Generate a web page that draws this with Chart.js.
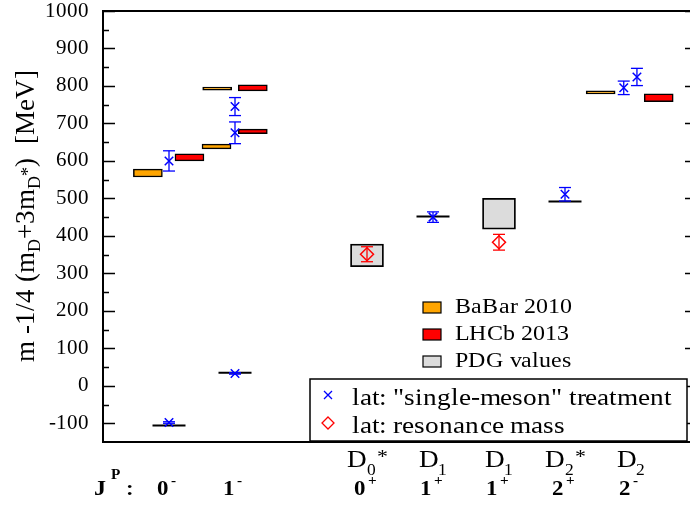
<!DOCTYPE html>
<html>
<head>
<meta charset="utf-8">
<script src="https://cdn.jsdelivr.net/npm/chart.js@4.4.1/dist/chart.umd.min.js"></script>
<style>
  @font-face { font-family: 'RefSerif'; src: local('Liberation Serif'), local('LiberationSerif'), local('Times New Roman'); font-weight: normal; }
  @font-face { font-family: 'RefSerif'; src: local('Liberation Serif Bold'), local('LiberationSerif-Bold'), local('Times New Roman Bold'); font-weight: bold; }
  html, body { margin: 0; padding: 0; background: #fff; overflow: hidden; }
  #wrap { width: 690px; height: 509px; overflow: hidden; }
</style>
</head>
<body>
<div id="wrap"><canvas id="chart" width="699" height="509"></canvas></div>
<script>
// group positions on the x axis and their labels
const groupX     = [1, 2, 4, 5, 6, 7, 8];
const stateNames = [null, null, ['D', '0', '*'], ['D', '1', ''], ['D', '1', ''], ['D', '2', '*'], ['D', '2', '']];
const jpLabels   = [['0', '-'], ['1', '-'], ['0', '+'], ['1', '+'], ['1', '+'], ['2', '+'], ['2', '-']];
const yTicks     = [-100, 0, 100, 200, 300, 400, 500, 600, 700, 800, 900, 1000];

// BaBar 2010 boxes [MeV]
const babarX  = [0.68, 1.72, 1.73, 7.54];
const babarLo = [557, 632, 789, 779];
const babarHi = [578, 645, 797, 787];

// LHCb 2013 boxes [MeV]
const lhcbX  = [1.31, 2.27, 2.27, 8.42];
const lhcbLo = [600, 673, 787, 758];
const lhcbHi = [619, 685, 803, 779];

// PDG values: broad states as boxes, narrow ones as lines
const pdgBoxX  = [4, 6];
const pdgBoxLo = [318, 418];
const pdgBoxHi = [378, 500];
const pdgLineX = [1, 2, 5, 7];
const pdgLineY = [-106, 35, 452, 492];

// lattice, "single-meson" treatment
const latX   = [1, 1, 2, 2, 2, 5, 7, 7.89, 8.09];
const latY   = [-98, 600, 33, 675, 745, 450, 511, 795, 824];
const latErr = [2, 27, 2, 29, 24, 14, 18, 18, 23];

// lattice, resonance mass
const resX   = [4, 6];
const resY   = [351, 383];
const resErr = [20, 21];

const SERIF = 'RefSerif, "Liberation Serif", "Times New Roman", serif';
const SX = 1.09; // text in the reference is a bit wider than tall

function errorBarPoints(xs, ys, errs) {
    var pts = [];
    for (var i = 0; i < xs.length; i++) {
        pts.push({x: xs[i], y: ys[i] - errs[i]});
        pts.push({x: xs[i], y: ys[i] + errs[i]});
        pts.push({x: xs[i], y: null});
    }
    return pts;
}

function boxPoints(xs, lo, hi) {
    return xs.map(function (x, i) { return {x: x, y: [lo[i], hi[i]]}; });
}

function points(xs, ys) {
    return xs.map(function (x, i) { return {x: x, y: ys[i]}; });
}

// draws text stretched horizontally, returns its drawn width
function stretchText(ctx, text, x, y, font, align) {
    ctx.save();
    ctx.font = font;
    var w = ctx.measureText(text).width * SX;
    var x0 = x;
    if (align === 'center') x0 = x - w / 2;
    ctx.translate(x0, y);
    ctx.scale(SX, 1);
    ctx.textAlign = 'left';
    ctx.textBaseline = 'alphabetic';
    ctx.fillText(text, 0, 0);
    ctx.restore();
    return w;
}

function textWidth(ctx, text, font) {
    ctx.save();
    ctx.font = font;
    var w = ctx.measureText(text).width * SX;
    ctx.restore();
    return w;
}

const decorPlugin = {
    id: 'decor',
    afterDatasetsDraw(chart) {
        var ctx = chart.ctx;
        var area = chart.chartArea;
        var y = chart.scales.y;
        var x = chart.scales.x;

        // frame
        ctx.save();
        ctx.strokeStyle = '#000';
        ctx.lineWidth = 2;
        ctx.strokeRect(area.left, area.top, area.right - area.left, area.bottom - area.top);

        // inward ticks on left and right
        ctx.lineWidth = 1.5;
        for (var v = -100; v <= 1000; v += 50) {
            var py = Math.round(y.getPixelForValue(v)) + 0.5;
            var len = (v % 100 === 0) ? 12 : 6;
            ctx.beginPath();
            ctx.moveTo(area.left, py); ctx.lineTo(area.left + len, py);
            ctx.moveTo(area.right, py); ctx.lineTo(area.right - len, py);
            ctx.stroke();
        }
        ctx.restore();

        // y axis title
        ctx.save();
        ctx.fillStyle = '#000';
        ctx.translate(34, 362);
        ctx.rotate(-Math.PI / 2);
        ctx.textBaseline = 'alphabetic';
        var big = '27px ' + SERIF, small = '18px ' + SERIF;
        var parts = [
            ['m -1/4 (m', big, 0], ['D', small, 6], ['+3m', big, 0],
            ['D', small, 6], ['*', small, -1], [')  [MeV]', big, 0]
        ];
        var cx = 0;
        parts.forEach(function (p) {
            ctx.font = p[1];
            ctx.fillText(p[0], cx, p[2]);
            cx += ctx.measureText(p[0]).width;
        });
        ctx.restore();

        // category labels under the plot
        ctx.save();
        ctx.fillStyle = '#000';
        var nameFont = '25px ' + SERIF, subFont = '16px ' + SERIF, starFont = '20px ' + SERIF;
        var jpFont = 'bold 21px ' + SERIF, supFont = 'bold 14px ' + SERIF;
        groupX.forEach(function (gx, i) {
            var px = x.getPixelForValue(gx);
            var nm = stateNames[i];
            if (nm) {
                var w = textWidth(ctx, nm[0], nameFont) + textWidth(ctx, nm[1], subFont) + textWidth(ctx, nm[2], starFont);
                var sx0 = px - w / 2;
                sx0 += stretchText(ctx, nm[0], sx0, 467, nameFont);
                sx0 += stretchText(ctx, nm[1], sx0, 475, subFont);
                stretchText(ctx, nm[2], sx0 + 1, 463, starFont);
            }
            var jp = jpLabels[i];
            var wj = textWidth(ctx, jp[0], jpFont) + textWidth(ctx, jp[1], supFont);
            var jx = px - wj / 2 - 3;
            jx += stretchText(ctx, jp[0], jx, 495, jpFont);
            stretchText(ctx, jp[1], jx + 2, 485, supFont);
        });
        var jx2 = 94;
        jx2 += stretchText(ctx, 'J', jx2, 495, 'bold 22px ' + SERIF);
        stretchText(ctx, 'P', jx2 + 5, 479, supFont);
        stretchText(ctx, ':', 126, 495, jpFont);
        ctx.restore();

        // legend without frame: experiments
        ctx.save();
        var legFont = '22px ' + SERIF;
        var boxes = [['#FFA500', 'BaBar 2010'], ['#FF0000', 'LHCb 2013'], ['#DCDCDC', 'PDG values']];
        boxes.forEach(function (b, i) {
            var ly = 302 + i * 27;
            ctx.fillStyle = b[0];
            ctx.fillRect(423, ly, 18, 11);
            ctx.strokeStyle = '#000';
            ctx.lineWidth = 1.2;
            ctx.strokeRect(423, ly, 18, 11);
            ctx.fillStyle = '#000';
            stretchText(ctx, b[1], 455, ly + 11, legFont);
        });
        ctx.restore();

        // framed legend: lattice results
        ctx.save();
        var fx = 310, fy = 379, fw = 377, fh = 62;
        ctx.fillStyle = '#fff';
        ctx.fillRect(fx, fy, fw, fh);
        ctx.strokeStyle = '#000';
        ctx.lineWidth = 1.5;
        ctx.strokeRect(fx, fy, fw, fh);
        // blue cross
        ctx.strokeStyle = '#0000FF';
        ctx.lineWidth = 1.3;
        ctx.beginPath();
        ctx.moveTo(324, 391); ctx.lineTo(332, 399);
        ctx.moveTo(332, 391); ctx.lineTo(324, 399);
        ctx.stroke();
        // red diamond
        ctx.strokeStyle = '#FF0000';
        ctx.beginPath();
        ctx.moveTo(328, 417); ctx.lineTo(334, 423); ctx.lineTo(328, 429); ctx.lineTo(322, 423);
        ctx.closePath();
        ctx.stroke();
        ctx.fillStyle = '#000';
        var lat2Font = '25px ' + SERIF;
        stretchText(ctx, 'lat: "single-meson" treatment', 352, 405, lat2Font);
        stretchText(ctx, 'lat: resonance mass', 352, 433, lat2Font);
        ctx.restore();
    }
};

function drawChart() {
    const ctx = document.getElementById('chart').getContext('2d');
    new Chart(ctx, {
        type: 'bar',
        data: {
            datasets: [
                {
                    type: 'scatter',
                    label: 'lat: "single-meson" treatment',
                    data: points(latX, latY),
                    pointStyle: 'crossRot',
                    pointRadius: 6,
                    pointBorderColor: '#0000FF',
                    pointBorderWidth: 1.5,
                    showLine: false
                },
                {
                    type: 'line',
                    label: 'lat errors',
                    data: errorBarPoints(latX, latY, latErr),
                    borderColor: '#0000FF',
                    borderWidth: 1.3,
                    pointStyle: 'line',
                    pointRadius: 6,
                    pointBorderColor: '#0000FF',
                    pointBorderWidth: 1.3,
                    spanGaps: false,
                    fill: false
                },
                {
                    type: 'scatter',
                    label: 'lat: resonance mass',
                    data: points(resX, resY),
                    pointStyle: 'rectRot',
                    pointRadius: 6.5,
                    pointBackgroundColor: 'rgba(0,0,0,0)',
                    pointBorderColor: '#FF0000',
                    pointBorderWidth: 1.5,
                    showLine: false
                },
                {
                    type: 'line',
                    label: 'res errors',
                    data: errorBarPoints(resX, resY, resErr),
                    borderColor: '#FF0000',
                    borderWidth: 1.3,
                    pointStyle: 'line',
                    pointRadius: 6,
                    pointBorderColor: '#FF0000',
                    pointBorderWidth: 1.3,
                    spanGaps: false,
                    fill: false
                },
                {
                    type: 'scatter',
                    label: 'PDG lines',
                    data: points(pdgLineX, pdgLineY),
                    pointStyle: 'line',
                    pointRadius: 16.5,
                    pointBorderColor: '#000',
                    pointBorderWidth: 2,
                    showLine: false
                },
                {
                    label: 'BaBar 2010',
                    data: boxPoints(babarX, babarLo, babarHi),
                    backgroundColor: '#FFA500',
                    borderColor: '#000',
                    borderWidth: 1.5,
                    borderSkipped: false,
                    barThickness: 29,
                    stack: 'boxes'
                },
                {
                    label: 'LHCb 2013',
                    data: boxPoints(lhcbX, lhcbLo, lhcbHi),
                    backgroundColor: '#FF0000',
                    borderColor: '#000',
                    borderWidth: 1.5,
                    borderSkipped: false,
                    barThickness: 29,
                    stack: 'boxes'
                },
                {
                    label: 'PDG values',
                    data: boxPoints(pdgBoxX, pdgBoxLo, pdgBoxHi),
                    backgroundColor: '#DCDCDC',
                    borderColor: '#000',
                    borderWidth: 1.8,
                    borderSkipped: false,
                    barThickness: 33,
                    stack: 'boxes'
                }
            ]
        },
        options: {
            responsive: false,
            animation: false,
            layout: { autoPadding: false, padding: { top: 11, right: 2, bottom: 67, left: 0 } },
            plugins: {
                legend: { display: false },
                tooltip: { enabled: false }
            },
            scales: {
                x: {
                    type: 'linear',
                    min: 0,
                    max: 9,
                    offset: false,
                    display: false,
                    afterFit: function (scale) {
                        scale.paddingLeft = 0; scale.paddingRight = 0;
                        scale.paddingTop = 0; scale.paddingBottom = 0;
                    }
                },
                y: {
                    type: 'linear',
                    min: -150,
                    max: 1000,
                    stacked: false,
                    grid: { display: false },
                    border: { display: false },
                    afterBuildTicks: function (scale) {
                        scale.ticks = yTicks.map(function (v) { return {value: v}; });
                    },
                    afterFit: function (scale) {
                        scale.width = 103;
                        scale.paddingTop = 0; scale.paddingBottom = 0;
                    },
                    ticks: {
                        padding: 6,
                        color: '#000',
                        font: { family: SERIF, size: 21, lineHeight: 1 },
                        callback: function (v) { return String(v); }
                    }
                }
            }
        },
        plugins: [decorPlugin]
    });
}

Promise.all([
    document.fonts.load('21px RefSerif'),
    document.fonts.load('bold 21px RefSerif')
]).then(drawChart, drawChart);
</script>
</body>
</html>
